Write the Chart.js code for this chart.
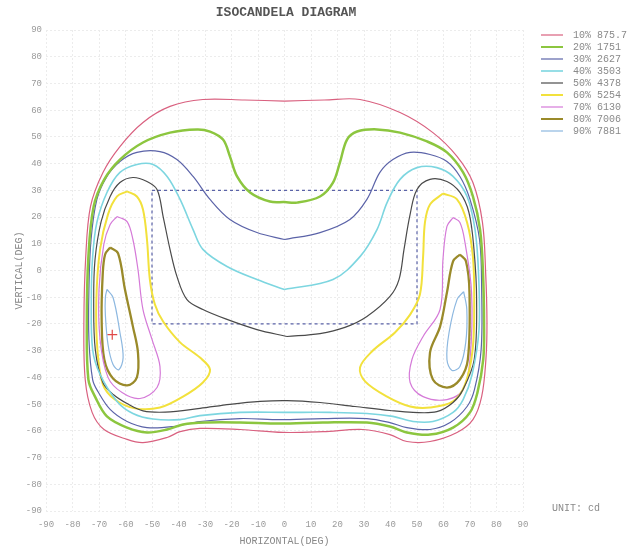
<!DOCTYPE html>
<html>
<head>
<meta charset="utf-8">
<title>Isocandela Diagram</title>
<script src="https://cdn.jsdelivr.net/npm/chart.js@4.4.1/dist/chart.umd.min.js"></script>
<style>
  html, body { margin: 0; padding: 0; background: #fff; }
  #wrap { width: 634px; height: 550px; }
</style>
</head>
<body>
<div id="wrap"><canvas id="isoChart"></canvas></div>
<script>
// iso levels (percent of max, cd)
const LEVELS = ['10% 875.7', '20% 1751', '30% 2627', '40% 3503', '50% 4378', '60% 5254', '70% 6130', '80% 7006', '90% 7881'];
const TICKS = [-90, -80, -70, -60, -50, -40, -30, -20, -10, 0, 10, 20, 30, 40, 50, 60, 70, 80, 90];

// contour points, [horizontal deg, vertical deg]
const C10 = [[0, 63.4], [-15, 63.8], [-30.8, 64.0], [-43.2, 61.4], [-53.4, 55.4], [-62.1, 46.4], [-68.5, 36.7], [-73.2, 24.0], [-75.0, 5.2], [-75.7, -19.5], [-75.2, -40.8], [-72.6, -53.1], [-68.1, -59.5], [-59.4, -63.2], [-53.4, -64.4], [-44.3, -62.5], [-39.4, -60.3], [-31.9, -59.1], [-16.8, -59.5], [-0.6, -60.6], [14.5, -60.3], [29.6, -59.5], [39.8, -61.4], [46.2, -64.0], [54.9, -64.0], [65.1, -60.6], [71.1, -55.8], [74.4, -47.2], [76.0, -33.3], [76.4, -19.5], [75.9, -0.7], [74.7, 18.0], [71.1, 32.9], [65.1, 42.7], [56.0, 51.6], [43.6, 59.1], [28.5, 64.0], [15, 63.8]];
const C20 = [[0, 25.6], [-5.5, 25.8], [-13.0, 29.2], [-17.9, 35.2], [-20.6, 42.7], [-23.2, 49.0], [-28.1, 52.0], [-33.0, 52.8], [-43.2, 51.6], [-53.4, 47.9], [-62.1, 41.5], [-68.0, 34.1], [-72.0, 24.0], [-74.0, 5.2], [-74.6, -19.5], [-74.0, -40.8], [-71.5, -47.2], [-67.0, -54.6], [-59.4, -58.8], [-51.9, -60.6], [-44.3, -59.5], [-38.3, -57.6], [-29.2, -56.9], [-16.8, -56.9], [-1.7, -57.3], [14.5, -56.9], [31.1, -56.9], [39.8, -58.4], [46.2, -60.6], [54.9, -61.4], [63.6, -58.8], [70.0, -53.1], [72.8, -45.7], [75.0, -33.3], [75.3, -19.5], [74.9, -0.7], [73.8, 15.3], [71.1, 27.7], [67.4, 36.7], [61.3, 44.2], [53.8, 48.3], [43.6, 51.6], [34.9, 52.8], [27.4, 52.0], [23.6, 49.0], [20.9, 40.4], [18.3, 32.9], [13.4, 27.7], [4.7, 25.4]];
const C30 = [[0, 11.6], [-10.4, 14.2], [-20.6, 19.1], [-28.1, 26.6], [-34.5, 35.2], [-40.6, 41.5], [-47.0, 44.5], [-55.7, 44.2], [-62.1, 40.8], [-67.0, 35.2], [-70.8, 26.6], [-73.0, 11.6], [-73.8, -7.1], [-73.8, -25.8], [-72.4, -40.8], [-70.4, -45.3], [-65.8, -52.0], [-59.4, -56.5], [-51.9, -58.8], [-42.1, -58.4], [-31.9, -56.5], [-16.8, -55.4], [-1.7, -55.8], [14.5, -55.4], [31.1, -55.4], [39.8, -56.9], [46.2, -58.8], [54.9, -59.5], [62.5, -56.9], [68.9, -50.9], [71.7, -44.5], [74.2, -29.6], [74.4, -7.1], [73.6, 11.6], [70.0, 26.6], [66.2, 35.2], [61.3, 40.8], [54.9, 43.4], [47.4, 44.2], [40.9, 41.5], [36.0, 36.7], [31.1, 26.6], [24.7, 19.1], [13.4, 14.2]];
const C40 = [[0, -7.1], [-10.4, -3.4], [-21.7, 1.5], [-30.8, 7.9], [-34.5, 15.3], [-39.4, 26.6], [-44.3, 35.2], [-49.6, 39.7], [-55.7, 39.7], [-62.1, 36.7], [-67.0, 29.2], [-70.8, 18.0], [-72.4, 5.2], [-72.9, -10.9], [-72.4, -29.6], [-69.6, -38.9], [-63.2, -49.0], [-57.2, -53.5], [-49.6, -55.6], [-39.4, -55.8], [-31.9, -54.3], [-16.8, -53.1], [0.9, -53.1], [17.2, -53.1], [31.1, -53.5], [40.9, -54.6], [48.5, -56.5], [56.0, -56.5], [63.6, -53.1], [67.4, -48.3], [70.8, -38.9], [73.4, -22.1], [73.2, -0.7], [71.9, 15.3], [68.9, 27.7], [63.6, 35.2], [57.5, 38.5], [50.0, 38.5], [43.6, 34.1], [38.7, 25.4], [34.9, 15.3], [28.5, 5.2], [18.3, -3.4]];
const C50 = [[0.9, -24.7], [-10.4, -22.1], [-21.7, -18.3], [-30.8, -14.6], [-36.8, -10.9], [-40.6, -2.2], [-43.2, 7.9], [-45.8, 20.2], [-48.1, 30.3], [-51.9, 33.3], [-57.2, 34.8], [-62.1, 32.9], [-65.8, 27.7], [-69.2, 18.3], [-71.5, 4.1], [-72.0, -10.9], [-71.4, -29.6], [-68.5, -42.0], [-64.5, -46.5], [-59.4, -49.8], [-53.4, -52.5], [-45.0, -53.0], [-31.9, -51.6], [-20.6, -50.1], [-9.2, -49.0], [0.9, -48.7], [13.4, -49.4], [26.6, -50.9], [39.8, -52.4], [48.5, -53.1], [57.5, -52.8], [63.6, -49.4], [67.4, -44.5], [71.6, -33.3], [72.5, -10.9], [71.5, 7.9], [69.6, 21.7], [66.2, 29.2], [61.3, 33.3], [54.9, 34.1], [50.0, 30.3], [47.4, 21.0], [45.1, 7.9], [43.2, -3.4], [39.8, -9.7], [31.1, -17.2], [22.8, -21.3], [13.4, -23.6]];
const C60L = [[-59.4, 29.6], [-55.7, 27.7], [-53.4, 22.8], [-51.9, 11.6], [-50.8, -3.4], [-48.9, -12.7], [-45.8, -19.1], [-39.4, -26.9], [-31.9, -32.6], [-28.1, -37.1], [-30.8, -41.9], [-38.3, -47.2], [-47.0, -51.3], [-56.4, -51.6], [-64.0, -48.3], [-68.5, -42.7], [-70.6, -29.6], [-71.0, -10.9], [-69.6, 7.9], [-66.6, 21.0], [-63.2, 27.7]];
const C60R = [[59.8, 28.8], [65.1, 26.6], [68.9, 18.0], [71.1, 5.2], [71.6, -10.9], [71.0, -29.6], [68.1, -42.7], [63.6, -49.0], [54.9, -51.3], [47.4, -50.9], [38.7, -47.2], [30.4, -41.5], [28.5, -36.3], [33.0, -30.3], [41.7, -23.2], [47.4, -16.5], [51.1, -9.0], [52.3, 5.2], [53.0, 18.0], [54.9, 24.7]];
const C70L = [[-63.2, 20.2], [-59.4, 18.3], [-57.2, 11.6], [-55.3, 0.4], [-53.4, -14.6], [-50.0, -25.8], [-47.0, -35.9], [-48.1, -43.8], [-54.5, -47.9], [-61.3, -45.7], [-66.6, -40.0], [-69.6, -25.8], [-70.0, -7.1], [-68.2, 9.7], [-65.8, 17.2]];
const C70R = [[63.6, 19.8], [66.2, 18.0], [68.1, 10.5], [70.6, -8.2], [70.0, -33.3], [67.4, -44.5], [61.3, -48.3], [52.3, -47.2], [47.4, -41.9], [48.1, -33.3], [52.3, -24.7], [58.7, -14.6], [59.8, 4.1], [61.3, 16.5]];
const C80L = [[-65.8, 8.6], [-62.8, 6.4], [-60.2, -7.1], [-57.2, -21.0], [-55.3, -30.7], [-55.7, -40.0], [-59.4, -43.0], [-64.7, -40.4], [-68.0, -33.3], [-69.0, -18.3], [-68.6, -1.5], [-67.7, 6.0]];
const C80R = [[66.2, 6.0], [68.5, 3.4], [69.8, -8.2], [69.2, -33.3], [66.2, -40.8], [61.3, -43.8], [56.0, -40.8], [54.9, -30.7], [58.7, -21.0], [61.3, -8.2], [63.6, 3.4]];
const C90L = [[-67.0, -7.1], [-64.7, -10.1], [-62.1, -23.2], [-60.9, -32.6], [-62.5, -37.1], [-64.7, -35.2], [-66.6, -27.7], [-67.6, -16.5], [-67.6, -10.1]];
const C90R = [[67.6, -7.9], [68.8, -14.6], [68.4, -26.9], [66.2, -35.9], [63.2, -37.4], [61.3, -33.3], [62.1, -23.2], [65.1, -10.9]];

const LOOPS = [[C10], [C20], [C30], [C40], [C50], [C60L, C60R], [C70L, C70R], [C80L, C80R], [C90L, C90R]];
const BOX = [[-50, 30], [50, 30], [50, -20], [-50, -20], [-50, 30]];
const MARK = [[-65, -24]];

const COLORS = ['#d9607f', '#8cc63f', '#5b63a8', '#7dd6e0', '#4a4a4a', '#f2e13c', '#d57ad8', '#9a8a2a', '#8db8e0'];
const WIDTHS = [1.2, 2.5, 1.2, 1.6, 1.2, 2, 1.2, 2.3, 1.2];
const MONO = '"Liberation Mono", "DejaVu Sans Mono", monospace';

const pts = (arr) => arr.map(([x, y]) => ({ x, y }));
const closed = (arr) => pts(arr.concat([arr[0]]));

const datasets = [];
LOOPS.forEach((loops, i) => {
    loops.forEach((loop) => {
        datasets.push({
            label: LEVELS[i],
            data: closed(loop),
            borderColor: COLORS[i],
            borderWidth: WIDTHS[i],
            showLine: true,
            pointRadius: 0,
            tension: 0.35,
            fill: false,
        });
    });
});
datasets.push({
    label: 'box',
    data: pts(BOX),
    borderColor: '#5b63a8',
    borderWidth: 1.2,
    borderDash: [3, 3],
    showLine: true,
    pointRadius: 0,
    tension: 0,
});
datasets.push({
    label: 'max',
    data: pts(MARK),
    pointStyle: 'cross',
    pointRadius: 5,
    borderColor: '#e04848',
    borderWidth: 1.2,
    showLine: false,
});

const sideText = {
    id: 'sideText',
    afterDraw(chart) {
        const ctx = chart.ctx;
        ctx.save();
        ctx.textBaseline = 'middle';
        ctx.textAlign = 'left';
        ctx.font = '10px ' + MONO;
        LEVELS.forEach((lab, i) => {
            const y = 35 + i * 12;
            ctx.strokeStyle = COLORS[i];
            ctx.lineWidth = Math.min(WIDTHS[i], 2);
            ctx.beginPath();
            ctx.moveTo(541, y);
            ctx.lineTo(563, y);
            ctx.stroke();
            ctx.fillStyle = '#8a8a8a';
            ctx.fillText(lab, 573, y);
        });
        ctx.fillText('UNIT: cd', 552, 508);
        ctx.font = 'bold 13px ' + MONO;
        ctx.fillStyle = '#555';
        ctx.textAlign = 'center';
        ctx.fillText('ISOCANDELA DIAGRAM', 286, 13);
        ctx.restore();
    },
};

const axisTicks = (s) => { s.ticks = TICKS.map((v) => ({ value: v })); };

new Chart(document.getElementById('isoChart'), {
    type: 'scatter',
    data: { datasets },
    options: {
        responsive: true,
        maintainAspectRatio: false,
        animation: false,
        layout: { autoPadding: false, padding: { top: 30, right: 111, bottom: 0, left: 0 } },
        plugins: { legend: { display: false }, tooltip: { enabled: false } },
        scales: {
            x: {
                type: 'linear',
                min: -90,
                max: 90,
                afterBuildTicks: axisTicks,
                afterFit: (s) => { s.height = 39; },
                grid: { color: '#ececec', drawTicks: false },
                border: { display: false, dash: [2, 2] },
                ticks: { color: '#9a9a9a', font: { family: MONO, size: 9 }, padding: 8, autoSkip: false, maxRotation: 0 },
                title: { display: true, text: 'HORIZONTAL(DEG)', color: '#888', font: { family: MONO, size: 10 }, padding: { top: 0, bottom: 3 } },
            },
            y: {
                type: 'linear',
                min: -90,
                max: 90,
                afterBuildTicks: axisTicks,
                afterFit: (s) => { s.width = 46; },
                grid: { color: '#ececec', drawTicks: false },
                border: { display: false, dash: [2, 2] },
                ticks: { color: '#9a9a9a', font: { family: MONO, size: 9 }, padding: 4, autoSkip: false },
                title: { display: true, text: 'VERTICAL(DEG)', color: '#888', font: { family: MONO, size: 10 }, padding: { top: 13, bottom: 0 } },
            },
        },
    },
    plugins: [sideText],
});
</script>
</body>
</html>
